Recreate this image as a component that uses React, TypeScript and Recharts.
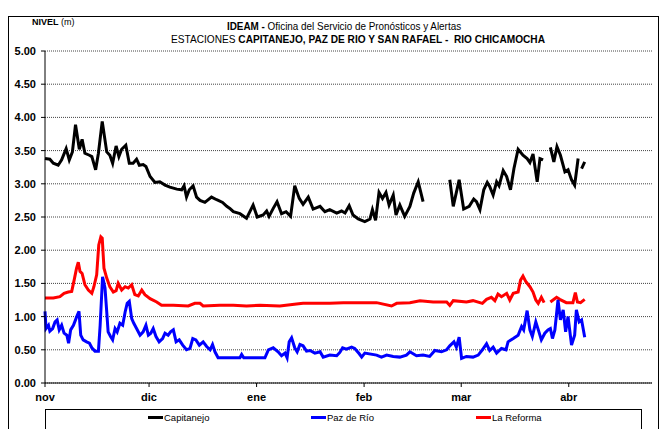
import { LineChart, Line, CartesianGrid, XAxis, YAxis } from 'recharts'

// day index since 1 nov, level in metres (null = no reading)
type Pt = [number, number | null]

const monthTicks = [0, 30, 61, 92, 120, 151]
const monthLabels = ['nov', 'dic', 'ene', 'feb', 'mar', 'abr']
const levelTicks = [0, 0.5, 1, 1.5, 2, 2.5, 3, 3.5, 4, 4.5, 5]

const capitanejo: Pt[] = [
  [0, 3.38], [1.4, 3.37], [2.4, 3.31], [3.8, 3.28], [4.8, 3.36], [6.1, 3.53], [7.0, 3.36], [7.9, 3.48],
  [8.8, 3.89], [9.9, 3.52], [10.7, 3.67], [11.5, 3.46], [12.8, 3.43], [13.5, 3.41], [14.6, 3.21], [15.4, 3.46],
  [16.5, 3.94], [17.8, 3.48], [18.7, 3.43], [19.5, 3.31], [20.5, 3.57], [21.3, 3.41], [22.1, 3.52], [23.3, 3.58],
  [24.3, 3.31], [25.4, 3.31], [26.4, 3.37], [27.2, 3.28], [28.3, 3.29], [29.1, 3.26], [30.3, 3.11], [31.7, 3.02],
  [33.1, 3.03], [34.6, 2.98], [36.0, 2.95], [38.0, 2.92], [39.4, 2.91], [40.1, 2.97], [40.8, 2.8], [41.6, 2.91],
  [42.7, 2.97], [43.7, 2.8], [44.7, 2.75], [46.1, 2.72], [48.0, 2.8], [49.5, 2.76], [51.2, 2.72], [52.4, 2.66],
  [53.3, 2.63], [54.3, 2.58], [56.2, 2.55], [58.1, 2.48], [60.0, 2.68], [61.2, 2.5], [62.9, 2.53], [63.9, 2.59],
  [64.6, 2.51], [65.8, 2.63], [66.9, 2.73], [68.2, 2.55], [69.5, 2.58], [70.8, 2.51], [72.0, 2.97], [73.3, 2.78],
  [74.4, 2.69], [75.9, 2.8], [77.3, 2.62], [79.3, 2.66], [80.7, 2.58], [82.1, 2.61], [84.1, 2.56], [85.5, 2.59],
  [86.5, 2.56], [87.7, 2.67], [88.8, 2.53], [90.3, 2.47], [92.2, 2.43], [93.7, 2.47], [94.4, 2.61], [95.3, 2.45],
  [96.3, 2.87], [97.3, 2.78], [98.3, 2.87], [99.2, 2.68], [100.4, 2.83], [101.2, 2.53], [102.3, 2.68], [103.7, 2.51],
  [105.2, 2.66], [106.3, 2.86], [107.6, 3.03], [109.0, 2.73], [113, null],
  [116.7, 3.06], [117.7, 2.66], [119.4, 3.06], [120.7, 2.62], [122.3, 2.66], [123.6, 2.77], [124.4, 2.73],
  [125.4, 2.61], [126.5, 2.91], [127.5, 3.02], [128.2, 2.96], [129.2, 2.83], [130.2, 3.03], [130.9, 2.97],
  [132.1, 3.2], [133.1, 3.11], [134.2, 2.91], [135.2, 3.23], [136.4, 3.52], [137.8, 3.43], [139.0, 3.38],
  [139.8, 3.32], [140.7, 3.45], [141.9, 3.03], [142.7, 3.38], [143.6, 3.36], [144.6, null],
  [145.7, 3.55], [146.7, 3.33], [147.6, 3.56], [148.6, 3.43], [149.9, 3.18], [150.8, 3.21], [151.8, 3.06],
  [152.7, 2.98], [153.7, 3.38], [154.2, null], [154.7, 3.23], [155.6, 3.33],
]

const pazDeRio: Pt[] = [
  [0, 1.08], [0.3, 0.82], [1.0, 0.87], [1.4, 0.78], [2.2, 0.82], [2.9, 0.92], [3.5, 0.95], [4.1, 0.8],
  [4.8, 0.87], [5.5, 0.75], [6.3, 0.72], [6.8, 0.6], [7.4, 0.8], [8.2, 0.87], [8.8, 0.95], [9.3, 1.02],
  [9.8, 1.08], [10.3, 0.72], [11.0, 0.65], [12.0, 0.62], [12.8, 0.6], [13.5, 0.53], [14.4, 0.48], [15.4, 0.48],
  [15.9, 0.87], [16.6, 1.6], [17.3, 1.43], [17.8, 1.07], [18.2, 0.77], [18.9, 0.7], [19.5, 0.65], [20.2, 0.82],
  [20.8, 0.77], [21.6, 0.9], [22.4, 0.87], [23.1, 1.07], [23.7, 1.2], [24.3, 1.23], [25.0, 0.97], [25.6, 0.9],
  [26.4, 0.82], [27.4, 0.72], [28.3, 0.77], [29.1, 0.87], [29.8, 0.72], [30.5, 0.75], [31.2, 0.82], [32.0, 0.7],
  [32.9, 0.62], [33.9, 0.67], [34.6, 0.75], [35.5, 0.72], [36.2, 0.77], [37.0, 0.8], [37.8, 0.62], [38.7, 0.65],
  [39.7, 0.57], [40.8, 0.5], [41.8, 0.52], [42.6, 0.67], [43.5, 0.65], [44.5, 0.57], [45.6, 0.62], [46.6, 0.55],
  [47.6, 0.5], [48.3, 0.58], [49.0, 0.47], [49.9, 0.38], [56.2, 0.38], [56.7, 0.43], [57.3, 0.38], [63.4, 0.38],
  [64.4, 0.5], [65.8, 0.53], [67.2, 0.47], [68.2, 0.41], [69.2, 0.45], [69.8, 0.38], [70.4, 0.62], [71.1, 0.68],
  [72.0, 0.53], [72.7, 0.47], [73.5, 0.58], [74.4, 0.56], [75.4, 0.48], [76.4, 0.49], [77.8, 0.45], [79.3, 0.47],
  [80.2, 0.39], [82.1, 0.42], [84.1, 0.41], [85.0, 0.46], [85.8, 0.53], [86.9, 0.51], [88.4, 0.54], [89.3, 0.52],
  [90.6, 0.44], [91.3, 0.39], [92.2, 0.45], [95.6, 0.42], [97.0, 0.39], [98.5, 0.42], [100.4, 0.4], [102.3, 0.39],
  [104.2, 0.42], [105.2, 0.47], [107.1, 0.41], [109.0, 0.42], [110.9, 0.4], [112.4, 0.49], [114.3, 0.47],
  [115.8, 0.5], [116.7, 0.56], [117.9, 0.62], [118.6, 0.54], [119.4, 0.69], [120.1, 0.37], [121.5, 0.4],
  [123.4, 0.39], [124.9, 0.42], [126.1, 0.5], [127.3, 0.59], [128.2, 0.49], [129.2, 0.54], [130.2, 0.45],
  [131.6, 0.52], [132.9, 0.5], [133.5, 0.62], [135.0, 0.67], [136.4, 0.72], [137.4, 0.85], [138.0, 0.8],
  [139.0, 1.09], [139.8, 0.8], [140.5, 0.7], [141.5, 0.92], [142.4, 0.77], [143.1, 0.65], [144.1, 0.75],
  [145.0, 0.8], [145.7, 0.82], [146.3, 0.67], [147.0, 0.8], [147.9, 1.25], [148.6, 0.95], [149.4, 1.1],
  [150.1, 0.77], [150.8, 1.0], [151.8, 0.57], [152.7, 0.72], [153.2, 1.1], [154.0, 0.92], [154.7, 0.95],
  [155.6, 0.69],
]

const laReforma: Pt[] = [
  [0, 1.28], [2.4, 1.28], [4.3, 1.3], [5.5, 1.35], [6.7, 1.37], [7.7, 1.38], [8.4, 1.55], [9.1, 1.73],
  [9.6, 1.82], [10.1, 1.68], [10.7, 1.65], [11.5, 1.48], [12.5, 1.4], [13.5, 1.35], [14.1, 1.45], [14.9, 1.63],
  [15.5, 2.08], [16.1, 2.2], [16.5, 2.18], [17.0, 1.73], [17.8, 1.58], [18.7, 1.45], [19.7, 1.37], [20.5, 1.39],
  [21.1, 1.5], [22.1, 1.4], [23.1, 1.45], [24.0, 1.43], [25.0, 1.48], [25.9, 1.33], [26.9, 1.31], [27.9, 1.4],
  [28.8, 1.33], [30.3, 1.27], [32.2, 1.22], [33.6, 1.17], [37.0, 1.17], [41.3, 1.16], [43.2, 1.2], [44.7, 1.2],
  [45.6, 1.16], [50.4, 1.17], [54.3, 1.17], [58.1, 1.16], [62.0, 1.17], [67.7, 1.16], [72.5, 1.19], [74.4, 1.2],
  [78.8, 1.2], [82.1, 1.2], [86.0, 1.21], [95.6, 1.21], [99.9, 1.16], [101.4, 1.2], [105.2, 1.21], [108.1, 1.24],
  [111.9, 1.22], [115.8, 1.22], [116.7, 1.17], [117.7, 1.24], [121.5, 1.22], [123.4, 1.24], [126.1, 1.2],
  [127.3, 1.26], [128.7, 1.29], [129.7, 1.24], [130.6, 1.34], [131.6, 1.3], [133.1, 1.35], [134.0, 1.25],
  [135.0, 1.35], [136.4, 1.37], [137.1, 1.55], [137.8, 1.61], [138.6, 1.53], [139.8, 1.45], [140.7, 1.37],
  [141.5, 1.25], [142.2, 1.2], [143.1, 1.29], [143.9, 1.21], [144.8, null],
  [145.7, 1.22], [147.5, 1.29], [148.4, 1.26], [150.3, 1.21], [152.2, 1.21], [152.9, 1.36], [153.5, 1.22],
  [154.4, 1.21], [155.6, 1.26],
]

const toRows = (pts: Pt[]) => pts.map(([day, v]) => ({ day, v }))

const font = "'Liberation Sans Narrow', 'Arial Narrow', 'Liberation Sans', Arial, sans-serif"

const legendItems = [
  { name: 'Capitanejo', color: '#000000', left: 148 },
  { name: 'Paz de Río', color: '#0000ff', left: 311 },
  { name: 'La Reforma', color: '#ff0000', left: 476 },
]

export default function App() {
  return (
    <div style={{ position: 'absolute', left: 0, top: 0, width: 662, height: 429, background: '#fff', overflow: 'hidden', fontFamily: font }}>
      {/* outer frame */}
      <div style={{ position: 'absolute', left: 8, top: 16, width: 649, height: 430, border: '1px solid #000' }} />

      <div style={{ position: 'absolute', left: 32, top: 17, fontSize: 9, color: '#000' }}>
        <b>NIVEL</b> (m)
      </div>
      <div style={{ position: 'absolute', left: 344, top: 20, transform: 'translateX(-50%) scaleX(0.86)', whiteSpace: 'nowrap', fontSize: 11.5 }}>
        <b>IDEAM - </b>Oficina del Servicio de Pronósticos y Alertas
      </div>
      <div style={{ position: 'absolute', left: 358, top: 33, transform: 'translateX(-50%) scaleX(0.88)', whiteSpace: 'pre', fontSize: 11.5 }}>
        ESTACIONES <b>CAPITANEJO, PAZ DE RIO Y SAN RAFAEL -  RIO CHICAMOCHA</b>
      </div>

      <div style={{ position: 'absolute', left: 0, top: 0 }}>
        <LineChart width={662} height={429} margin={{ top: 51, right: 10, bottom: 26, left: 8 }}>
          <CartesianGrid vertical={false} stroke="#444" strokeDasharray="1 1" />
          <XAxis
            type="number"
            dataKey="day"
            domain={[0, 175]}
            ticks={monthTicks}
            tickFormatter={(d: number) => monthLabels[monthTicks.indexOf(d)]}
            height={20}
            stroke="#000"
            tickSize={4}
            tickMargin={6}
            tick={{ fill: '#000', fontSize: 11, fontWeight: 700, fontFamily: font }}
            allowDuplicatedCategory={false}
          />
          <YAxis
            domain={[0, 5]}
            ticks={levelTicks}
            tickFormatter={(v: number) => v.toFixed(2)}
            width={37}
            stroke="#000"
            tickSize={4}
            tickMargin={5}
            interval={0}
            tick={{ fill: '#000', fontSize: 11, fontWeight: 700, fontFamily: font }}
          />
          <YAxis yAxisId="frame" orientation="right" width={0} tick={false} tickLine={false} stroke="#000" domain={[0, 5]} />
          <Line data={toRows(laReforma)} dataKey="v" name="La Reforma" stroke="#ff0000" strokeWidth={3} dot={false} isAnimationActive={false} type="linear" />
          <Line data={toRows(pazDeRio)} dataKey="v" name="Paz de Río" stroke="#0000ff" strokeWidth={3} dot={false} isAnimationActive={false} type="linear" />
          <Line data={toRows(capitanejo)} dataKey="v" name="Capitanejo" stroke="#000000" strokeWidth={3} dot={false} isAnimationActive={false} type="linear" />
        </LineChart>
      </div>

      {/* legend */}
      <div style={{ position: 'absolute', left: 45, top: 409, width: 595, height: 25, border: '1px solid #000', background: '#fff' }} />
      {legendItems.map((it) => (
        <div key={it.name} style={{ position: 'absolute', left: it.left, top: 412, display: 'flex', alignItems: 'center', fontSize: 9.5, whiteSpace: 'nowrap' }}>
          <span style={{ display: 'inline-block', width: 15, height: 3, background: it.color, marginRight: 1 }} />
          {it.name}
        </div>
      ))}
    </div>
  )
}
